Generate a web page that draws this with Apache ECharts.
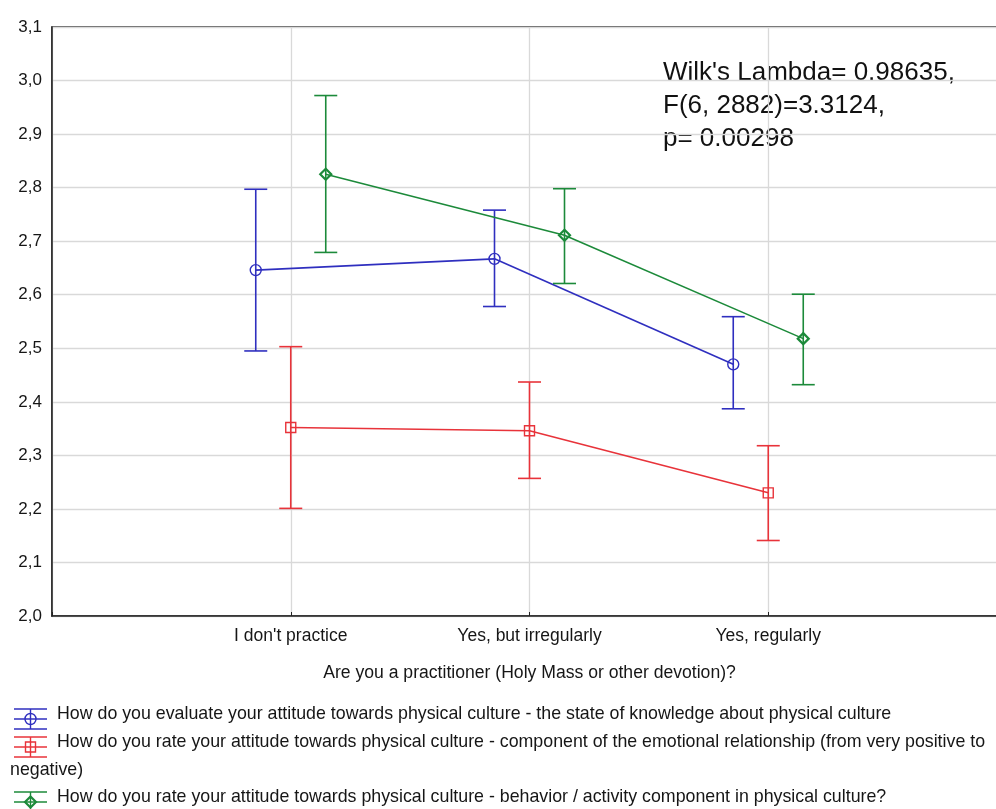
<!DOCTYPE html>
<html>
<head>
<meta charset="utf-8">
<script src="https://cdn.jsdelivr.net/npm/echarts@6/dist/echarts.min.js"></script>
<style>html,body{margin:0;padding:0;background:#fff;}#c{width:996px;height:809px;}</style>
</head>
<body>
<div id="c"></div>
<script>
const categories = ["I don't practice", "Yes, but irregularly", "Yes, regularly"];
const yTicks = ['2,0','2,1','2,2','2,3','2,4','2,5','2,6','2,7','2,8','2,9','3,0','3,1'];

const knowledgeMean = [2.646, 2.667, 2.470];
const knowledgeLow  = [2.495, 2.578, 2.387];
const knowledgeHigh = [2.797, 2.758, 2.559];

const emotionalMean = [2.352, 2.346, 2.230];
const emotionalLow  = [2.201, 2.257, 2.141];
const emotionalHigh = [2.503, 2.437, 2.318];

const behaviorMean = [2.825, 2.711, 2.518];
const behaviorLow  = [2.679, 2.621, 2.432];
const behaviorHigh = [2.972, 2.798, 2.601];

const seriesNames = [
  'How do you evaluate your attitude towards physical culture - the state of knowledge about physical culture',
  'How do you rate your attitude towards physical culture - component of the emotional relationship (from very positive to negative)',
  'How do you rate your attitude towards physical culture - behavior / activity component in physical culture?'
];
const statsText = ["Wilk's Lambda= 0.98635,", 'F(6, 2882)=3.3124,', 'p= 0.00298'];

const BLUE = '#2f2fbf', RED = '#e8333a', GREEN = '#1c8a3a';
const FONT = '"Liberation Sans", Arial, sans-serif';

function makeData(mean, low, high) {
  return categories.map((c, i) => [i, mean[i], low[i], high[i]]);
}

function markerShape(kind, cx, cy, color) {
  const st = { stroke: color, fill: 'none', lineWidth: 1.4 };
  if (kind === 'circle') return { type: 'circle', shape: { cx: cx, cy: cy, r: 5.5 }, style: st };
  if (kind === 'square') return { type: 'rect', shape: { x: cx - 5, y: cy - 5, width: 10, height: 10 }, style: st };
  return { type: 'polygon', shape: { points: [[cx, cy - 5.5], [cx + 5.5, cy], [cx, cy + 5.5], [cx - 5.5, cy]] },
           style: { stroke: color, fill: 'none', lineWidth: 2.2 } };
}

function makeRender(color, dx, kind) {
  return function (params, api) {
    const i = params.dataIndexInside;
    const x = api.value(0, i);
    const pm = api.coord([x, api.value(1, i)]);
    const ph = api.coord([x, api.value(3, i)]);
    const pl = api.coord([x, api.value(2, i)]);
    const cx = pm[0] + dx;
    const cap = 11.5;
    const ls = { stroke: color, lineWidth: 1.6 };
    const children = [];
    if (i + 1 < params.dataInsideLength) {
      const pn = api.coord([api.value(0, i + 1), api.value(1, i + 1)]);
      children.push({ type: 'line', shape: { x1: cx, y1: pm[1], x2: pn[0] + dx, y2: pn[1] }, style: ls });
    }
    children.push({ type: 'line', shape: { x1: cx, y1: ph[1], x2: cx, y2: pl[1] }, style: ls });
    children.push({ type: 'line', shape: { x1: cx - cap, y1: ph[1], x2: cx + cap, y2: ph[1] }, style: ls });
    children.push({ type: 'line', shape: { x1: cx - cap, y1: pl[1], x2: cx + cap, y2: pl[1] }, style: ls });
    children.push(markerShape(kind, cx, pm[1], color));
    return { type: 'group', children: children };
  };
}

function legendIcon(x, y, color, kind) {
  const ls = { stroke: color, lineWidth: 1.4 };
  return {
    type: 'group', silent: true,
    children: [
      { type: 'line', shape: { x1: x, y1: y - 10, x2: x + 33, y2: y - 10 }, style: ls },
      { type: 'line', shape: { x1: x, y1: y, x2: x + 33, y2: y }, style: ls },
      { type: 'line', shape: { x1: x, y1: y + 10, x2: x + 33, y2: y + 10 }, style: ls },
      { type: 'line', shape: { x1: x + 16.5, y1: y - 10, x2: x + 16.5, y2: y + 10 }, style: ls },
      markerShape(kind, x + 16.5, y, color)
    ]
  };
}

const chart = echarts.init(document.getElementById('c'), null, { renderer: 'canvas' });

const textStyleLegend = { fontFamily: FONT, fontSize: 17.8, fill: '#161616' };

const option = {
  animation: false,
  backgroundColor: '#fff',
  grid: { left: 52, top: 27, width: 955, height: 589, outerBoundsMode: 'none', containLabel: false,
          show: true, borderColor: '#222', borderWidth: 1.5, backgroundColor: 'transparent' },
  xAxis: {
    type: 'value', min: -1, max: 3, interval: 1,
    axisLine: { show: true, onZero: false, lineStyle: { color: '#222', width: 1.5 } },
    axisTick: { show: true, inside: true, length: 4, lineStyle: { color: '#222' } },
    splitLine: { show: true, lineStyle: { color: '#d9d9d9', width: 1.3 } },
    axisLabel: { margin: 11, fontFamily: FONT, fontSize: 17.5, color: '#161616',
      formatter: function (v) { return categories[v] !== undefined ? categories[v] : ''; } },
    name: 'Are you a practitioner (Holy Mass or other devotion)?',
    nameLocation: 'middle', nameGap: 48,
    nameTextStyle: { fontFamily: FONT, fontSize: 17.6, color: '#161616' }
  },
  yAxis: {
    type: 'value', min: 2.0, max: 3.1, interval: 0.1,
    axisLine: { show: true, onZero: false, lineStyle: { color: '#222', width: 1.5 } },
    axisTick: { show: false },
    splitLine: { show: true, lineStyle: { color: '#d9d9d9', width: 1.3 } },
    axisLabel: { margin: 10, fontFamily: FONT, fontSize: 17, color: '#161616',
      formatter: function (v) { return yTicks[Math.round((v - 2.0) * 10)]; } }
  },
  series: [
    { type: 'custom', name: seriesNames[0], renderItem: makeRender(BLUE, -35, 'circle'),
      data: makeData(knowledgeMean, knowledgeLow, knowledgeHigh), encode: { x: 0, y: [1, 2, 3] }, clip: false, z: 3 },
    { type: 'custom', name: seriesNames[1], renderItem: makeRender(RED, 0, 'square'),
      data: makeData(emotionalMean, emotionalLow, emotionalHigh), encode: { x: 0, y: [1, 2, 3] }, clip: false, z: 3 },
    { type: 'custom', name: seriesNames[2], renderItem: makeRender(GREEN, 35, 'diamond'),
      data: makeData(behaviorMean, behaviorLow, behaviorHigh), encode: { x: 0, y: [1, 2, 3] }, clip: false, z: 3 }
  ],
  graphic: [
    { type: 'text', left: 663, top: 56, silent: true,
      style: { text: statsText.join('\n'), fontFamily: FONT, fontSize: 26, lineHeight: 33, fill: '#111' } },
    legendIcon(14, 719, BLUE, 'circle'),
    legendIcon(14, 747, RED, 'square'),
    legendIcon(14, 802, GREEN, 'diamond'),
    { type: 'text', left: 57, top: 705, silent: true, style: Object.assign({ text: seriesNames[0] }, textStyleLegend) },
    { type: 'text', left: 57, top: 733, silent: true, style: Object.assign({ text: seriesNames[1].replace(' negative)', '') }, textStyleLegend) },
    { type: 'text', left: 10, top: 761, silent: true, style: Object.assign({ text: 'negative)' }, textStyleLegend) },
    { type: 'text', left: 57, top: 788, silent: true, style: Object.assign({ text: seriesNames[2] }, textStyleLegend) }
  ]
};
chart.setOption(option);
</script>
</body>
</html>
